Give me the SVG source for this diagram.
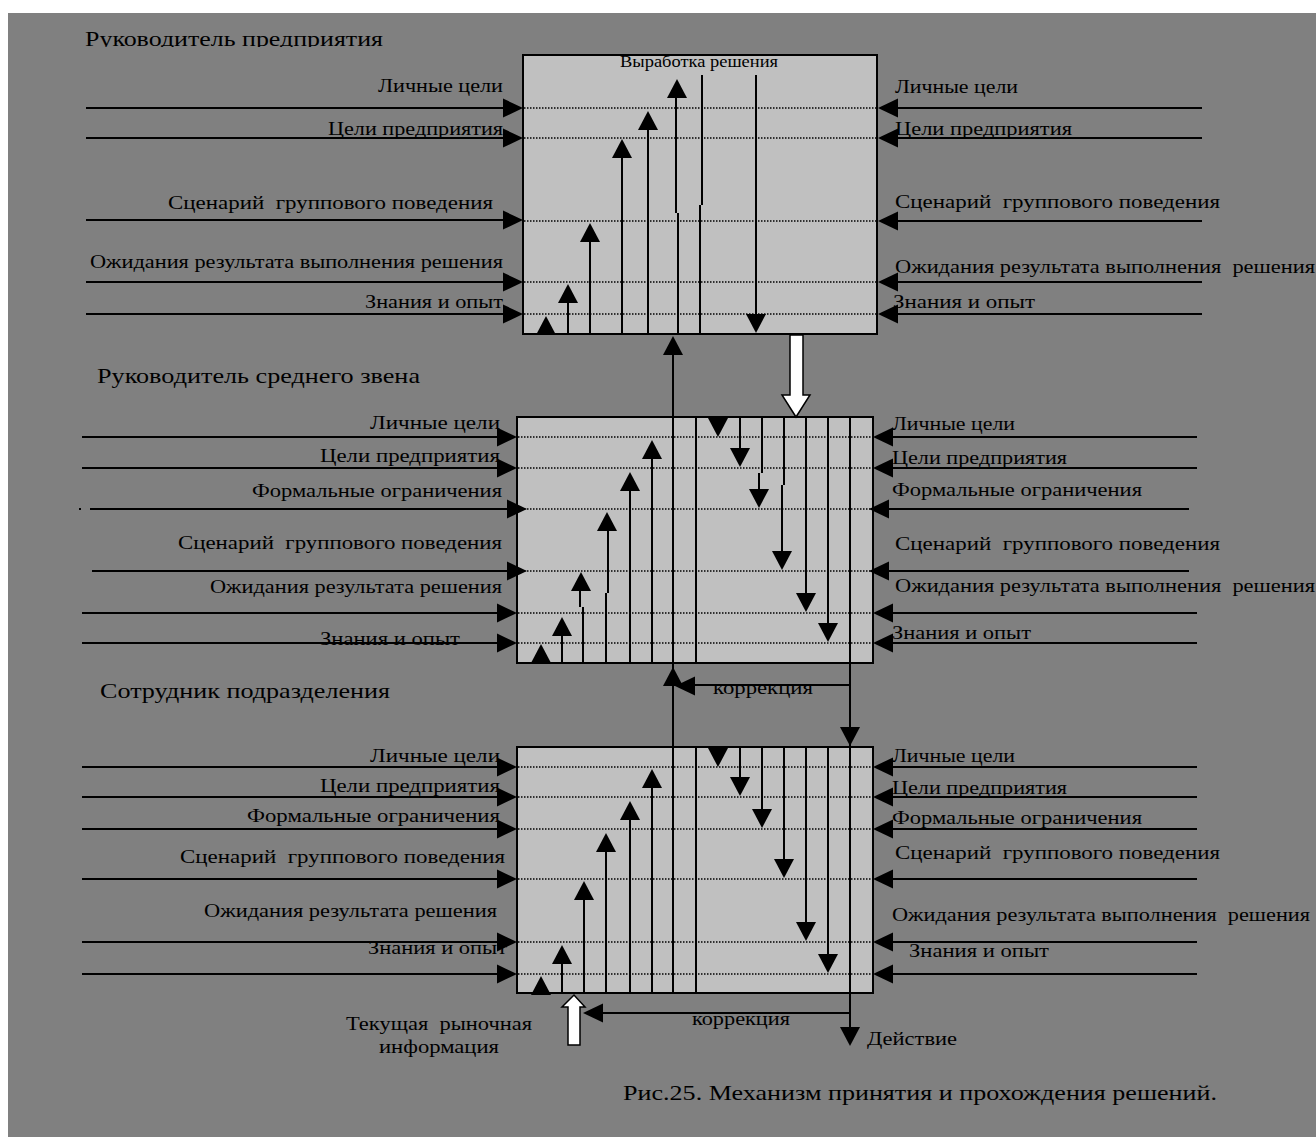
<svg xmlns="http://www.w3.org/2000/svg" width="1316" height="1137" viewBox="0 0 1316 1137">
<style>
.bg{fill:#808080}
.box{fill:#c0c0c0;stroke:#000;stroke-width:2}
.dot{stroke:#000;stroke-width:1.5;stroke-dasharray:1.5 1.5;fill:none}
.ln{stroke:#000;stroke-width:2;fill:none}
.ah{fill:#000}
.wa{fill:#fff;stroke:#000;stroke-width:1.5}
text{font-family:"Liberation Serif","Times New Roman",serif;fill:#000;white-space:pre}
.t{font-size:19px}
.h{font-size:22px}
.s{font-size:16px}
</style>
<defs>
<path id="u" d="M0,0 L10,19 L-10,19 Z"/>
<path id="d" d="M0,0 L10,-19 L-10,-19 Z"/>
<path id="r" d="M0,0 L-20,-9.5 L-20,9.5 Z"/>
<path id="l" d="M0,0 L20,-9.5 L20,9.5 Z"/>
<clipPath id="topclip"><rect x="0" y="0" width="1316" height="47"/></clipPath>
</defs>
<rect x="0" y="0" width="1316" height="1137" fill="#fff"/>
<rect class="bg" x="8" y="13" width="1308" height="1124"/>

<g id="box1">
<text class="h" x="85" y="46" textLength="298" lengthAdjust="spacingAndGlyphs" clip-path="url(#topclip)">Руководитель предприятия</text>
<rect class="box" x="523" y="55" width="354" height="279"/>
<path class="dot" d="M524,108H878M524,138H878M524,221H878M524,282H878M524,314H878"/>
<text class="s" x="620" y="67" textLength="158" lengthAdjust="spacingAndGlyphs">Выработка решения</text>
<text class="t" x="378" y="92" textLength="125" lengthAdjust="spacingAndGlyphs">Личные цели</text>
<text class="t" x="328" y="135" textLength="175" lengthAdjust="spacingAndGlyphs">Цели предприятия</text>
<text class="t" x="168" y="209" textLength="325" lengthAdjust="spacingAndGlyphs">Сценарий  группового поведения</text>
<text class="t" x="90" y="268" textLength="413" lengthAdjust="spacingAndGlyphs">Ожидания результата выполнения решения</text>
<text class="t" x="365" y="308" textLength="138" lengthAdjust="spacingAndGlyphs">Знания и опыт</text>
<text class="t" x="895" y="93" textLength="123" lengthAdjust="spacingAndGlyphs">Личные цели</text>
<text class="t" x="895" y="135" textLength="177" lengthAdjust="spacingAndGlyphs">Цели предприятия</text>
<text class="t" x="895" y="208" textLength="325" lengthAdjust="spacingAndGlyphs">Сценарий  группового поведения</text>
<text class="t" x="895" y="273" textLength="420" lengthAdjust="spacingAndGlyphs">Ожидания результата выполнения  решения</text>
<text class="t" x="893" y="308" textLength="142" lengthAdjust="spacingAndGlyphs">Знания и опыт</text>
</g>

<g id="box2">
<text class="h" x="97" y="383" textLength="323" lengthAdjust="spacingAndGlyphs">Руководитель среднего звена</text>
<rect class="box" x="517" y="417" width="356" height="246"/>
<path class="dot" d="M518,437H874M518,468H874M518,509H874M518,571H874M518,613H874M518,643H874"/>
<text class="t" x="370" y="429" textLength="130" lengthAdjust="spacingAndGlyphs">Личные цели</text>
<text class="t" x="320" y="462" textLength="180" lengthAdjust="spacingAndGlyphs">Цели предприятия</text>
<text class="t" x="252" y="497" textLength="250" lengthAdjust="spacingAndGlyphs">Формальные ограничения</text>
<text class="t" x="178" y="549" textLength="324" lengthAdjust="spacingAndGlyphs">Сценарий  группового поведения</text>
<text class="t" x="210" y="593" textLength="292" lengthAdjust="spacingAndGlyphs">Ожидания результата решения</text>
<text class="t" x="320" y="645" textLength="140" lengthAdjust="spacingAndGlyphs">Знания и опыт</text>
<text class="t" x="892" y="430" textLength="123" lengthAdjust="spacingAndGlyphs">Личные цели</text>
<text class="t" x="892" y="464" textLength="175" lengthAdjust="spacingAndGlyphs">Цели предприятия</text>
<text class="t" x="892" y="496" textLength="250" lengthAdjust="spacingAndGlyphs">Формальные ограничения</text>
<text class="t" x="895" y="550" textLength="325" lengthAdjust="spacingAndGlyphs">Сценарий  группового поведения</text>
<text class="t" x="895" y="592" textLength="420" lengthAdjust="spacingAndGlyphs">Ожидания результата выполнения  решения</text>
<text class="t" x="892" y="639" textLength="139" lengthAdjust="spacingAndGlyphs">Знания и опыт</text>
</g>

<g id="box3">
<text class="h" x="100" y="698" textLength="290" lengthAdjust="spacingAndGlyphs">Сотрудник подразделения</text>
<rect class="box" x="517" y="747" width="356" height="246"/>
<path class="dot" d="M518,767H874M518,797H874M518,829H874M518,879H874M518,942H874M518,974H874"/>
<text class="t" x="370" y="762" textLength="130" lengthAdjust="spacingAndGlyphs">Личные цели</text>
<text class="t" x="320" y="792" textLength="180" lengthAdjust="spacingAndGlyphs">Цели предприятия</text>
<text class="t" x="247" y="822" textLength="253" lengthAdjust="spacingAndGlyphs">Формальные ограничения</text>
<text class="t" x="180" y="863" textLength="325" lengthAdjust="spacingAndGlyphs">Сценарий  группового поведения</text>
<text class="t" x="204" y="917" textLength="293" lengthAdjust="spacingAndGlyphs">Ожидания результата решения</text>
<text class="t" x="368" y="954" textLength="139" lengthAdjust="spacingAndGlyphs">Знания и опыт</text>
<text class="t" x="892" y="762" textLength="123" lengthAdjust="spacingAndGlyphs">Личные цели</text>
<text class="t" x="892" y="794" textLength="175" lengthAdjust="spacingAndGlyphs">Цели предприятия</text>
<text class="t" x="892" y="824" textLength="250" lengthAdjust="spacingAndGlyphs">Формальные ограничения</text>
<text class="t" x="895" y="859" textLength="325" lengthAdjust="spacingAndGlyphs">Сценарий  группового поведения</text>
<text class="t" x="892" y="921" textLength="418" lengthAdjust="spacingAndGlyphs">Ожидания результата выполнения  решения</text>
<text class="t" x="909" y="957" textLength="140" lengthAdjust="spacingAndGlyphs">Знания и опыт</text>
</g>

<g id="market-info">
<text class="t" x="346" y="1030" textLength="186" lengthAdjust="spacingAndGlyphs">Текущая  рыночная</text>
<text class="t" x="379" y="1053" textLength="120" lengthAdjust="spacingAndGlyphs">информация</text>
</g>
<g id="action">
<text class="t" x="867" y="1045" textLength="90" lengthAdjust="spacingAndGlyphs">Действие</text>
</g>
<g id="caption">
<text class="h" x="623" y="1100" textLength="594" lengthAdjust="spacingAndGlyphs">Рис.25. Механизм принятия и прохождения решений.</text>
</g>

<g id="connectors">
<!-- box1 inputs left -->
<path class="ln" d="M86,108H505M86,138H505M86,220H505M86,282H505M86,314H505"/>
<use href="#r" class="ah" x="523" y="108"/><use href="#r" class="ah" x="523" y="138"/><use href="#r" class="ah" x="523" y="220"/><use href="#r" class="ah" x="523" y="282"/><use href="#r" class="ah" x="523" y="314"/>
<!-- box1 inputs right -->
<path class="ln" d="M1202,108H895M1202,138H895M1202,221H895M1202,282H895M1202,314H895"/>
<use href="#l" class="ah" x="878" y="108"/><use href="#l" class="ah" x="878" y="138"/><use href="#l" class="ah" x="878" y="221"/><use href="#l" class="ah" x="878" y="282"/><use href="#l" class="ah" x="878" y="314"/>
<!-- box1 inner -->
<use href="#u" class="ah" x="546" y="316"/>
<path class="ln" d="M568,334V300M590,334V240M622,334V156M648,334V128M678,334V213M676,213V95M700,334V205M702,205V75M756,75V316"/>
<use href="#u" class="ah" x="568" y="284"/><use href="#u" class="ah" x="590" y="223"/><use href="#u" class="ah" x="622" y="139"/><use href="#u" class="ah" x="648" y="111"/><use href="#u" class="ah" x="677" y="79"/>
<use href="#d" class="ah" x="756" y="333"/>
<!-- long upward line box3 -> box1 -->
<path class="ln" d="M673,993V353"/>
<use href="#u" class="ah" x="673" y="336"/>
<!-- white arrow box1 -> box2 -->
<path class="wa" d="M790,335H803V395H810L796,417L782,395H790Z"/>

<!-- box2 inputs left -->
<path class="ln" d="M82,437H500M82,468H500M90,509H508M92,571H508M82,613H500M82,643H500"/>
<rect x="79" y="508" width="2" height="2" fill="#000"/>
<use href="#r" class="ah" x="517" y="437"/><use href="#r" class="ah" x="517" y="468"/><use href="#r" class="ah" x="527" y="509"/><use href="#r" class="ah" x="527" y="571"/><use href="#r" class="ah" x="517" y="613"/><use href="#r" class="ah" x="517" y="643"/>
<!-- box2 inputs right -->
<path class="ln" d="M1197,437H890M1197,468H890M1189,509H888M1189,571H888M1197,613H890M1197,643H890"/>
<use href="#l" class="ah" x="873" y="437"/><use href="#l" class="ah" x="873" y="468"/><use href="#l" class="ah" x="869" y="509"/><use href="#l" class="ah" x="869" y="571"/><use href="#l" class="ah" x="873" y="613"/><use href="#l" class="ah" x="873" y="643"/>
<!-- box2 inner -->
<use href="#u" class="ah" x="541" y="644"/>
<path class="ln" d="M562,663V634M583,663V607M580,607V589M606,663V593M608,593V529M630,663V489M652,663V457M696,417V663"/>
<use href="#u" class="ah" x="562" y="617"/><use href="#u" class="ah" x="581" y="572"/><use href="#u" class="ah" x="607" y="512"/><use href="#u" class="ah" x="630" y="472"/><use href="#u" class="ah" x="652" y="440"/>
<use href="#d" class="ah" x="718" y="437"/>
<path class="ln" d="M740,417V450M762,417V473M759,473V491M784,417V485M782,485V553M806,417V595M828,417V625M850,417V1029"/>
<use href="#d" class="ah" x="740" y="467"/><use href="#d" class="ah" x="759" y="508"/><use href="#d" class="ah" x="782" y="570"/><use href="#d" class="ah" x="806" y="612"/><use href="#d" class="ah" x="828" y="642"/>
<!-- correction box2 -> box3 -->
<path class="ln" d="M850,685H690"/>
<use href="#l" class="ah" x="675" y="686"/>
<use href="#u" class="ah" x="673" y="667"/>
<use href="#d" class="ah" x="850" y="746"/>
<text class="t" x="713" y="694" textLength="100" lengthAdjust="spacingAndGlyphs">коррекция</text>

<!-- box3 inputs left -->
<path class="ln" d="M82,767H500M82,797H500M82,829H500M82,879H500M82,942H500M82,974H500"/>
<use href="#r" class="ah" x="517" y="767"/><use href="#r" class="ah" x="517" y="797"/><use href="#r" class="ah" x="517" y="829"/><use href="#r" class="ah" x="517" y="879"/><use href="#r" class="ah" x="517" y="942"/><use href="#r" class="ah" x="517" y="974"/>
<!-- box3 inputs right -->
<path class="ln" d="M1197,767H890M1197,797H890M1197,829H890M1197,879H890M1197,942H890M1197,974H890"/>
<use href="#l" class="ah" x="873" y="767"/><use href="#l" class="ah" x="873" y="797"/><use href="#l" class="ah" x="873" y="829"/><use href="#l" class="ah" x="873" y="879"/><use href="#l" class="ah" x="873" y="942"/><use href="#l" class="ah" x="873" y="974"/>
<!-- box3 inner -->
<use href="#u" class="ah" x="541" y="976"/>
<path class="ln" d="M562,993V962M584,993V898M606,993V850M630,993V818M652,993V786M696,747V993"/>
<use href="#u" class="ah" x="562" y="945"/><use href="#u" class="ah" x="584" y="881"/><use href="#u" class="ah" x="606" y="833"/><use href="#u" class="ah" x="630" y="801"/><use href="#u" class="ah" x="652" y="769"/>
<use href="#d" class="ah" x="718" y="767"/>
<path class="ln" d="M740,747V779M762,747V811M784,747V861M806,747V924M828,747V956"/>
<use href="#d" class="ah" x="740" y="796"/><use href="#d" class="ah" x="762" y="828"/><use href="#d" class="ah" x="784" y="878"/><use href="#d" class="ah" x="806" y="941"/><use href="#d" class="ah" x="828" y="973"/>
<!-- bottom: correction and action -->
<path class="ln" d="M850,1013H598"/>
<use href="#l" class="ah" x="583" y="1013"/>
<use href="#d" class="ah" x="850" y="1046"/>
<text class="t" x="692" y="1025" textLength="98" lengthAdjust="spacingAndGlyphs">коррекция</text>
<!-- white arrow market info -> box3 -->
<path class="wa" d="M568,1045V1007H562L574,995L585,1007H580V1045Z"/>
</g>
</svg>
